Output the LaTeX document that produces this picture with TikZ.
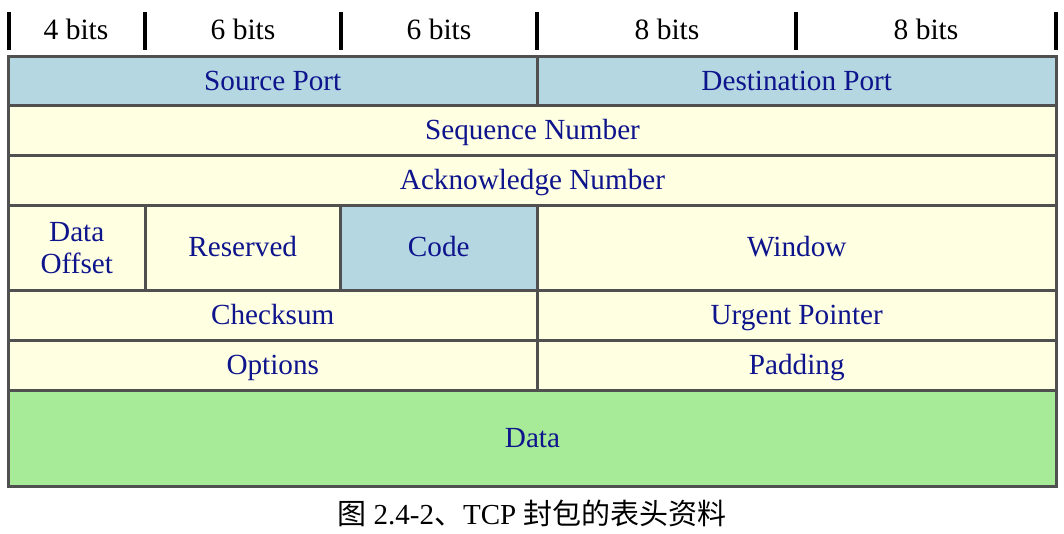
\documentclass[tikz,border=0pt]{standalone}
\usepackage{fontspec}
\setmainfont{Liberation Serif}
\newfontfamily\cjk{Noto Sans CJK SC}
\definecolor{portblue}{RGB}{180,215,226}
\definecolor{pale}{RGB}{255,255,226}
\definecolor{datagreen}{RGB}{167,235,153}
\definecolor{gridgray}{RGB}{80,80,80}
\definecolor{txtblue}{RGB}{14,20,140}
\tikzset{
  cellbox/.style={anchor=north west, inner sep=0pt, outer sep=0pt, draw=none,
    text=txtblue, font=\fontsize{29.2}{32}\selectfont, text height=20pt, text depth=2pt},
  twoline/.style={text height=, text depth=, align=center},
  tickbar/.style={fill=black, draw=none, inner sep=0pt, minimum width=4pt, minimum height=38pt, anchor=north},
  bitlabel/.style={font=\fontsize{29.5}{32}\selectfont, text=black, inner sep=0pt, anchor=base},
}
% \cellat[opts]{name}{x1}{y1}{x2}{y2}{colour}{text}
\newcommand{\cellat}[8][]{%
  \pgfmathsetmacro{\cw}{#5-#3}\pgfmathsetmacro{\ch}{#6-#4}%
  \node[cellbox, fill=#7, minimum width=\cw pt, minimum height=\ch pt, #1] (#2) at (#3,#4) {#8};}
\begin{document}
\begin{tikzpicture}[x=1pt,y=-1pt]
\useasboundingbox (0,0) rectangle (1064,534);
% header ticks
\node[tickbar] (t0) at (9,12) {};
\node[tickbar] (t1) at (145,12) {};
\node[tickbar] (t2) at (341,12) {};
\node[tickbar] (t3) at (537,12) {};
\node[tickbar] (t4) at (796,12) {};
\node[tickbar] (t5) at (1056,12) {};
\node[bitlabel] (b0) at (76,40) {4 bits};
\node[bitlabel] (b1) at (243,40) {6 bits};
\node[bitlabel] (b2) at (439,40) {6 bits};
\node[bitlabel] (b3) at (667,40) {8 bits};
\node[bitlabel] (b4) at (926,40) {8 bits};
% table frame
\fill[gridgray] (7,55) rectangle (1058,488);
% row 1
\cellat{src}{10}{58}{535.5}{104.5}{portblue}{Source Port}
\cellat{dst}{538.5}{58}{1055}{104.5}{portblue}{Destination Port}
% row 2
\cellat{seq}{10}{107.5}{1055}{154.5}{pale}{Sequence Number}
% row 3
\cellat{ack}{10}{157.5}{1055}{204.5}{pale}{Acknowledge Number}
% row 4
\cellat[twoline]{off}{10}{207.5}{143.5}{288.5}{pale}{Data\\Offset}
\cellat{res}{146.5}{207.5}{339}{288.5}{pale}{Reserved}
\cellat{code}{342}{207.5}{535.5}{288.5}{portblue}{Code}
\cellat{win}{538.5}{207.5}{1055}{288.5}{pale}{Window}
% row 5
\cellat{chk}{10}{291.5}{535.5}{338.5}{pale}{Checksum}
\cellat{urg}{538.5}{291.5}{1055}{338.5}{pale}{Urgent Pointer}
% row 6
\cellat{opt}{10}{341.5}{535.5}{388.5}{pale}{Options}
\cellat{pad}{538.5}{341.5}{1055}{388.5}{pale}{Padding}
% row 7
\cellat{data}{10}{391.5}{1055}{485}{datagreen}{Data}
% caption
\node[font=\fontsize{29}{32}\selectfont, text=black, inner sep=0pt] (cap) at (532,513)
  {{\cjk 图} 2.4-2{\cjk 、}TCP {\cjk 封包的表头资料}};
\end{tikzpicture}
\end{document}
